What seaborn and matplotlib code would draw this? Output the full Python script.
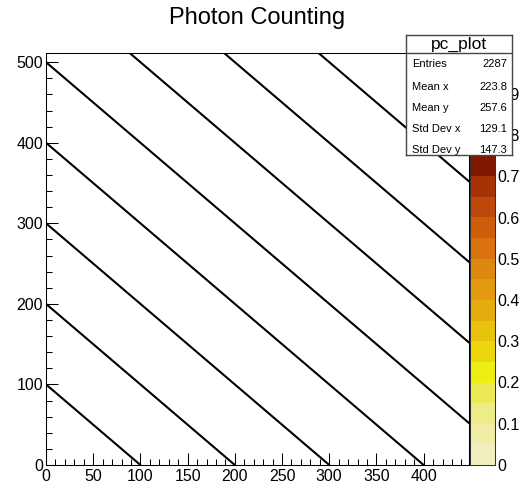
import matplotlib
matplotlib.use("Agg")
import matplotlib.pyplot as plt
import matplotlib.colors as mcolors
import matplotlib.colorbar as mcolorbar
from matplotlib.ticker import MultipleLocator, FuncFormatter
import seaborn as sns
import pandas as pd

# data: diagonal lines x + y = const filled in the 2D histogram
line_sums = [100, 200, 300, 400, 500, 600, 700, 800, 900]
x_range = [0, 448]
y_range = [0, 512]

# stats box
stat_title = "pc_plot"
stat_labels = ["Entries", "Mean x", "Mean y", "Std Dev x", "Std Dev y"]
stat_values = ["2287", "223.8", "257.6", "129.1", "147.3"]

# palette, 20 levels from 0 to 1 (bottom -> top)
palette = ["#F1EFBF", "#EFEDA6", "#EEEC86", "#EDEB55", "#EEEE12",
           "#EBD70B", "#E9C20D", "#E5AC0F", "#E39A10", "#DF8810",
           "#DA720F", "#CE5D0C", "#BD4809", "#A53306", "#801800",
           "#6A0600", "#520000", "#380000", "#1E0000", "#000000"]
cb_ticks = [0, 0.1, 0.2, 0.3, 0.4, 0.5, 0.6, 0.7, 0.8, 0.9]

sns.set_theme(style="white")
plt.rcParams['font.family'] = ['Liberation Sans', 'DejaVu Sans']
plt.rcParams['text.color'] = 'black'
plt.rcParams['xtick.color'] = 'black'
plt.rcParams['ytick.color'] = 'black'
plt.rcParams['xtick.labelcolor'] = 'black'
plt.rcParams['ytick.labelcolor'] = 'black'

rows = []
for s in line_sums:
    x0 = max(x_range[0], s - y_range[1])
    x1 = min(x_range[1], s)
    rows.append({'line': s, 'x': x0, 'y': s - x0})
    rows.append({'line': s, 'x': x1, 'y': s - x1})
df = pd.DataFrame(rows)

W, H = 527, 487
fig = plt.figure(figsize=(W/100, H/100), dpi=100)
fig.patch.set_facecolor('white')

ax = fig.add_axes([46/W, 22/H, 423/W, 412.5/H])
sns.lineplot(data=df, x='x', y='y', units='line', estimator=None,
             color=palette[-1], lw=1.5, ax=ax, legend=False)
ax.set_xlim(x_range)
ax.set_ylim(y_range)
ax.set_xlabel('')
ax.set_ylabel('')
ax.xaxis.set_major_locator(MultipleLocator(50))
ax.xaxis.set_minor_locator(MultipleLocator(10))
ax.yaxis.set_major_locator(MultipleLocator(100))
ax.yaxis.set_minor_locator(MultipleLocator(20))
ax.tick_params(which='both', direction='in', top=False, right=False,
               bottom=True, left=True, color='black', width=0.75,
               labelcolor='black')
ax.tick_params(which='major', length=8.5, labelsize=11.5)
ax.tick_params(which='minor', length=4.3)
ax.tick_params(axis='x', pad=3)
ax.tick_params(axis='y', pad=2)
for sp in ax.spines.values():
    sp.set_color('black')
    sp.set_linewidth(0.75)

fig.text(257.5/W, 1 - 18/H, "Photon Counting", ha='center', va='center',
         fontsize=17, color='black')

# colour scale
cax = fig.add_axes([470/W, 22/H, 25/W, 412.5/H])
cmap = mcolors.ListedColormap(palette)
bounds = [i * 0.05 for i in range(len(palette) + 1)]
norm = mcolors.BoundaryNorm(bounds, cmap.N)
cb = mcolorbar.ColorbarBase(cax, cmap=cmap, norm=norm, orientation='vertical',
                            ticks=cb_ticks, spacing='proportional')
cb.outline.set_linewidth(0.75)
cb.outline.set_edgecolor('#333333')
cax.yaxis.set_major_formatter(FuncFormatter(lambda v, p: '0' if v == 0 else '%.1f' % v))
cax.tick_params(direction='in', length=8.5, width=0.75, color='black',
                labelcolor='black', labelsize=11.5, pad=2, right=True, left=False)
cax.minorticks_off()

# stats box
sax = fig.add_axes([405.5/W, (H - 155)/H, 106.5/W, 120/H], zorder=10)
sax.set_facecolor('white')
sax.set_xticks([])
sax.set_yticks([])
sax.set_xlim(0, 1)
sax.set_ylim(0, 1)
for sp in sax.spines.values():
    sp.set_color('#444444')
    sp.set_linewidth(1.0)
sax.axhline((155 - 52.5)/120, color='#444444', lw=1.0)
sax.text(0.5, (155 - 44)/120, stat_title, ha='center', va='center',
         fontsize=12.5, color='black')
row_y = [64, 86.5, 108, 129, 150]
for lab, val, yy in zip(stat_labels, stat_values, row_y):
    sax.text(0.058, (155 - yy)/120, lab, ha='left', va='center', fontsize=8,
             color='black')
    sax.text(0.953, (155 - yy)/120, val, ha='right', va='center', fontsize=8,
             color='black')

fig.savefig("out.png", dpi=100)
